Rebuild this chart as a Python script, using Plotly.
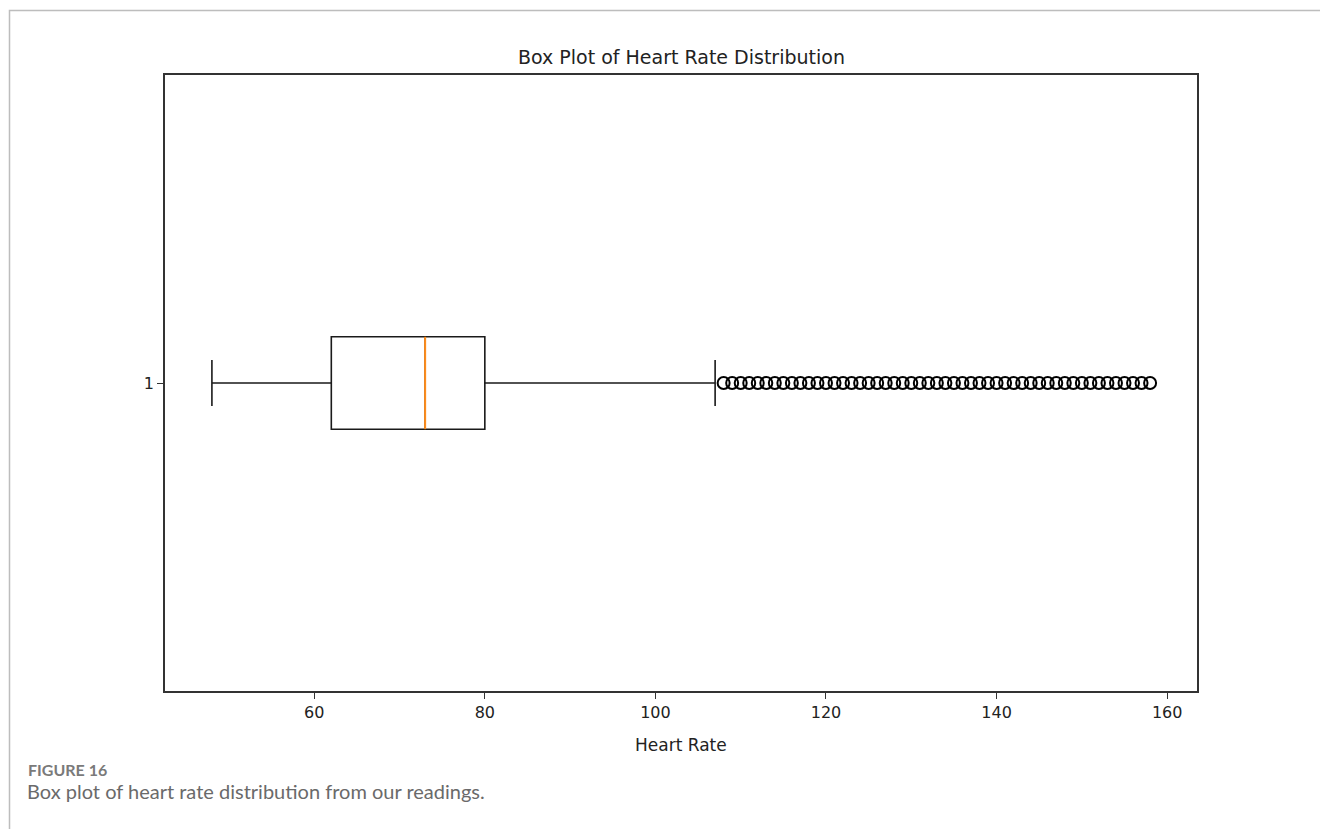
import plotly.graph_objects as go

# ---- data ----
categories = [1]
q1 = [62]
median = [73]
q3 = [80]
lower_whisker = [48]
upper_whisker = [107]
outliers = list(range(108, 159))
x_ticks = [60, 80, 100, 120, 140, 160]
y_ticks = [1]
y_tick_labels = ["1"]

W, H = 1320, 829
L, R, T, B = 165, 1197, 75, 691
pw, ph = R - L, B - T

def px_x(p):
    return (p - L) / pw

def px_y(p):
    return (B - p) / ph

fig = go.Figure()

fig.add_trace(go.Box(
    orientation="h",
    y=categories,
    q1=q1, median=median, q3=q3,
    lowerfence=lower_whisker, upperfence=upper_whisker,
    width=0.15,
    whiskerwidth=0.5,
    line=dict(color="#1a1a1a", width=1.6),
    fillcolor="rgba(255,255,255,0)",
    boxpoints=False,
    hoverinfo="skip",
    showlegend=False,
))

# orange median line
fig.add_trace(go.Scatter(
    x=[median[0], median[0]],
    y=[categories[0] - 0.075, categories[0] + 0.075],
    mode="lines",
    line=dict(color="#ff8c1a", width=2),
    showlegend=False,
    hoverinfo="skip",
))

# outliers (fliers)
fig.add_trace(go.Scatter(
    x=outliers,
    y=[categories[0]] * len(outliers),
    mode="markers",
    marker=dict(symbol="circle-open", size=12, color="black", line=dict(width=2, color="black")),
    showlegend=False,
))

tickfont = dict(size=16, color="#222", family="DejaVu Sans")
fig.update_layout(
    width=W, height=H,
    margin=dict(l=L, r=W - R, t=T, b=H - B),
    paper_bgcolor="white", plot_bgcolor="white",
    font=dict(family="DejaVu Sans", color="#222", size=16),
    xaxis=dict(
        range=[42.5, 163.5], tickvals=x_ticks, showgrid=False, zeroline=False,
        showline=True, mirror=True, linecolor="#333", linewidth=1.6,
        ticks="outside", ticklen=6, tickcolor="#333", tickwidth=1.4,
        tickfont=tickfont,
    ),
    yaxis=dict(
        range=[0.5, 1.5], tickvals=y_ticks, ticktext=y_tick_labels, showgrid=False, zeroline=False,
        showline=True, mirror=True, linecolor="#333", linewidth=1.6,
        ticks="outside", ticklen=6, tickcolor="#333", tickwidth=1.4,
        tickfont=tickfont,
    ),
    annotations=[
        dict(text="Box Plot of Heart Rate Distribution", xref="paper", yref="paper",
             x=0.5, y=px_y(57), xanchor="center", yanchor="middle", showarrow=False,
             font=dict(size=19, color="#222", family="DejaVu Sans")),
        dict(text="Heart Rate", xref="paper", yref="paper",
             x=0.5, y=px_y(745), xanchor="center", yanchor="middle", showarrow=False,
             font=dict(size=17, color="#222", family="DejaVu Sans")),
        dict(text="<b>FIGURE 16</b>", xref="paper", yref="paper",
             x=px_x(26), y=px_y(769), xanchor="left", yanchor="middle", showarrow=False,
             font=dict(size=16, color="#7a7a7a", family="Lato")),
        dict(text="Box plot of heart rate distribution from our readings.", xref="paper", yref="paper",
             x=px_x(25), y=px_y(791), xanchor="left", yanchor="middle", showarrow=False,
             font=dict(size=20, color="#6a6a6a", family="Lato")),
    ],
    shapes=[
        dict(type="rect", xref="paper", yref="paper",
             x0=px_x(9.5), x1=px_x(1340), y0=px_y(860), y1=px_y(10.5),
             line=dict(color="#bdbdbd", width=1.5), fillcolor="rgba(0,0,0,0)", layer="below"),
    ],
)

fig.write_html("out.html")
